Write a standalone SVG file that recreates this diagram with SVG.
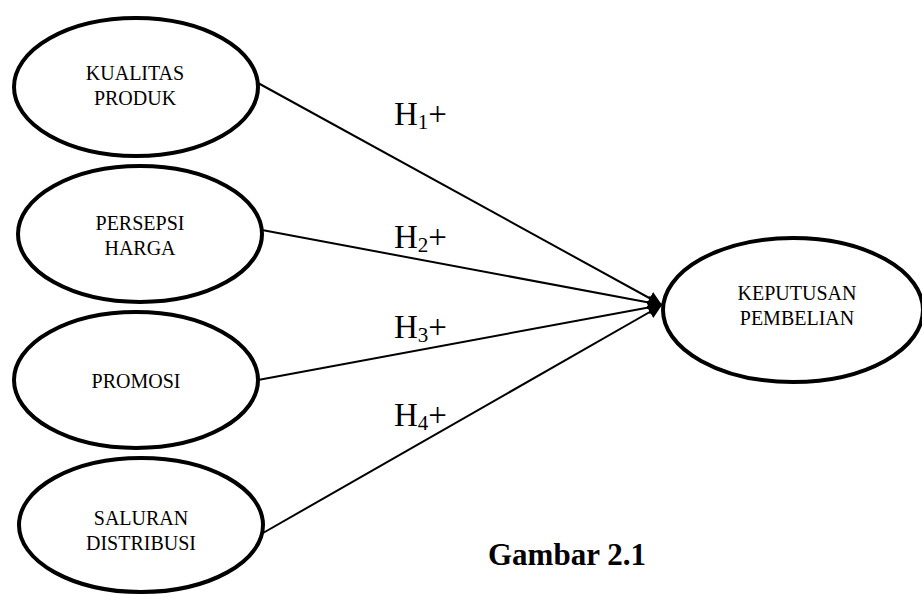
<svg xmlns="http://www.w3.org/2000/svg" width="922" height="602" viewBox="0 0 922 602">
<style>
.node ellipse{fill:#fff;stroke:#000;stroke-width:4}
.lbl{font-family:"Liberation Serif","Times New Roman",serif;font-size:20px;text-anchor:middle;fill:#000}
.h{font-family:"Liberation Serif","Times New Roman",serif;font-size:33px;fill:#000}
.sub{font-size:21px}
.edge{stroke:#000;stroke-width:2;fill:none;marker-end:url(#arr)}
</style>
<defs>
<marker id="arr" markerUnits="userSpaceOnUse" markerWidth="16" markerHeight="14" refX="14" refY="7" orient="auto">
<path d="M0,0 L14,7 L0,14 Z" fill="#000"/>
</marker>
</defs>
<rect width="922" height="602" fill="#fff"/>
<g id="connectors">
<line class="edge" x1="258" y1="83" x2="662" y2="305"/>
<line class="edge" x1="262" y1="230" x2="662" y2="305"/>
<line class="edge" x1="258" y1="380" x2="662" y2="305"/>
<line class="edge" x1="263" y1="533" x2="662" y2="305"/>
</g>
<g id="kualitas" class="node">
<ellipse cx="136" cy="87" rx="122" ry="69"/>
<text class="lbl" x="135" y="80">KUALITAS</text>
<text class="lbl" x="135" y="105">PRODUK</text>
</g>
<g id="persepsi" class="node">
<ellipse cx="140" cy="234" rx="122" ry="68"/>
<text class="lbl" x="140" y="230">PERSEPSI</text>
<text class="lbl" x="140" y="255">HARGA</text>
</g>
<g id="promosi" class="node">
<ellipse cx="136" cy="380" rx="122" ry="68"/>
<text class="lbl" x="136" y="388">PROMOSI</text>
</g>
<g id="saluran" class="node">
<ellipse cx="141" cy="525" rx="122" ry="67"/>
<text class="lbl" x="141" y="525">SALURAN</text>
<text class="lbl" x="141" y="550">DISTRIBUSI</text>
</g>
<g id="keputusan" class="node">
<ellipse cx="793" cy="310" rx="130" ry="72"/>
<text class="lbl" x="797" y="300">KEPUTUSAN</text>
<text class="lbl" x="797" y="325">PEMBELIAN</text>
</g>
<g id="labels">
<text class="h" x="394" y="125">H<tspan class="sub" dy="4">1</tspan><tspan dy="-4">+</tspan></text>
<text class="h" x="394" y="248">H<tspan class="sub" dy="4">2</tspan><tspan dy="-4">+</tspan></text>
<text class="h" x="394" y="338">H<tspan class="sub" dy="4">3</tspan><tspan dy="-4">+</tspan></text>
<text class="h" x="394" y="426">H<tspan class="sub" dy="4">4</tspan><tspan dy="-4">+</tspan></text>
</g>
<text id="caption" x="488" y="565" font-family="'Liberation Serif','Times New Roman',serif" font-size="31" font-weight="bold" fill="#000">Gambar 2.1</text>
</svg>
